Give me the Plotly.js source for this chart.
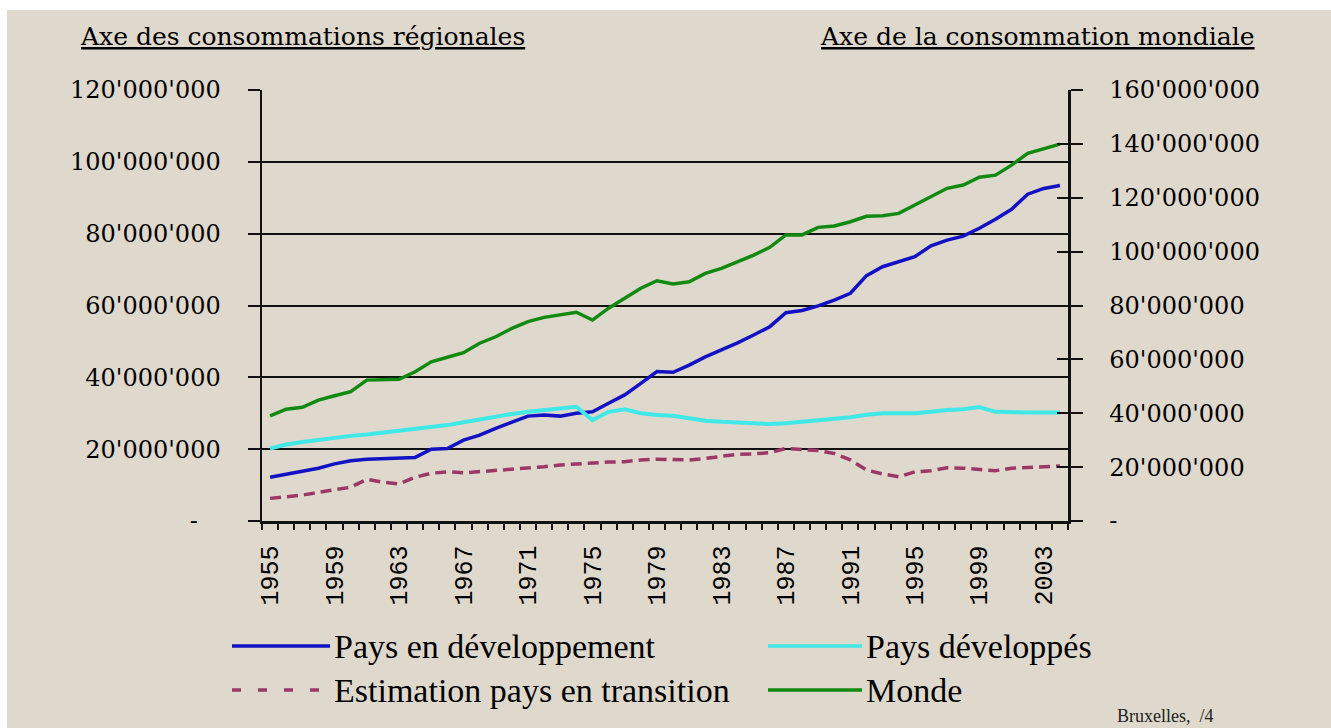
<!DOCTYPE html>
<html>
<head>
<meta charset="utf-8">
<script src="https://cdn.plot.ly/plotly-3.0.1.min.js"></script>
<style>
html,body{margin:0;padding:0;background:#ffffff;}
#chart{width:1331px;height:728px;}
</style>
</head>
<body>
<div id="chart"></div>
<script>
// ---- DATA (values in millions) ----
const years = [1955,1956,1957,1958,1959,1960,1961,1962,1963,1964,
               1965,1966,1967,1968,1969,1970,1971,1972,1973,1974,
               1975,1976,1977,1978,1979,1980,1981,1982,1983,1984,
               1985,1986,1987,1988,1989,1990,1991,1992,1993,1994,
               1995,1996,1997,1998,1999,2000,2001,2002,2003,2004];

// Pays en développement (left axis)
const paysEnDeveloppement = [12.2,13.1,13.9,14.7,15.9,16.8,17.2,17.4,17.6,17.7,
                             20.0,20.2,22.5,23.9,25.8,27.5,29.2,29.5,29.2,30.0,
                             30.4,32.8,35.1,38.3,41.6,41.4,43.4,45.7,47.6,49.6,
                             51.8,54.1,58.0,58.6,59.9,61.5,63.4,68.3,70.8,72.2,
                             73.6,76.6,78.2,79.3,81.5,84.0,86.8,91.0,92.6,93.4];

// Pays développés (left axis)
const paysDeveloppes = [20.2,21.3,22.0,22.6,23.2,23.7,24.1,24.6,25.1,25.5,
                        26.1,26.7,27.5,28.3,29.0,29.8,30.4,30.9,31.5,31.8,
                        28.1,30.4,31.1,30.0,29.5,29.3,28.6,27.9,27.6,27.4,
                        27.2,27.0,27.2,27.6,28.1,28.3,28.9,29.6,30.0,30.0,
                        30.0,30.4,30.9,31.1,31.7,30.4,30.2,30.2,30.2,30.2];

// Estimation pays en transition (left axis)
const paysEnTransition = [6.3,6.8,7.2,8.0,8.6,9.4,11.6,10.8,10.3,12.2,
                          13.3,13.7,13.4,13.7,14.0,14.4,14.7,15.1,15.6,15.9,
                          16.1,16.4,16.5,17.0,17.2,17.2,17.0,17.4,18.1,18.6,
                          18.7,19.0,20.2,19.8,19.6,18.8,17.0,14.2,13.1,12.3,
                          13.7,14.0,14.8,14.7,14.4,14.0,14.7,14.8,15.1,15.3];

// Monde (right axis)
const monde = [39.0,41.5,42.2,44.9,46.5,48.0,52.3,52.6,52.6,55.4,
               59.1,60.8,62.5,66.0,68.4,71.5,74.0,75.6,76.5,77.5,
               74.6,79.0,82.7,86.4,89.2,88.0,88.8,91.9,93.8,96.3,
               98.7,101.6,106.2,106.2,109.0,109.5,111.1,113.1,113.3,114.2,
               117.3,120.4,123.5,124.7,127.6,128.4,132.1,136.5,138.3,139.9];

const seriesNames = ['Pays en développement','Pays développés','Estimation pays en transition','Monde'];

const xTickYears = [1955,1959,1963,1967,1971,1975,1979,1983,1987,1991,1995,1999,2003];
const xTickText = ['1955','1959','1963','1967','1971','1975','1979','1983','1987','1991','1995','1999','2003'];

const leftTickVals = [0,20,40,60,80,100,120];
const leftTickText = ['-\u00a0\u00a0\u00a0',"20'000'000","40'000'000","60'000'000","80'000'000","100'000'000","120'000'000"];
const rightTickVals = [0,20,40,60,80,100,120,140,160];
const rightTickText = ['-',"20'000'000","40'000'000","60'000'000","80'000'000","100'000'000","120'000'000","140'000'000","160'000'000"];

const leftAxisTitle = 'Axe des consommations régionales';
const rightAxisTitle = 'Axe de la consommation mondiale';
const footerText = 'Bruxelles,\u00a0\u00a0/4';

// ---- LAYOUT HELPERS (pixel -> paper) ----
const W = 1331, H = 728;
const PL = 262, PR = 1068, PT = 90, PB = 521;
const px = p => (p - PL) / (PR - PL);
const py = p => (PB - p) / (PB - PT);

const colors = {
  dev: '#1212c4',
  devd: '#40e8e8',
  trans: '#9c3868',
  monde: '#128a12'
};

const traces = [
  {x: years, y: paysEnDeveloppement, name: seriesNames[0], type: 'scatter', mode: 'lines',
   line: {color: colors.dev, width: 3.5}, xaxis: 'x', yaxis: 'y', showlegend: false},
  {x: years, y: paysDeveloppes, name: seriesNames[1], type: 'scatter', mode: 'lines',
   line: {color: colors.devd, width: 4}, xaxis: 'x', yaxis: 'y', showlegend: false},
  {x: years, y: paysEnTransition, name: seriesNames[2], type: 'scatter', mode: 'lines',
   line: {color: colors.trans, width: 3.5, dash: '11px,6px'}, xaxis: 'x', yaxis: 'y', showlegend: false},
  {x: years, y: monde, name: seriesNames[3], type: 'scatter', mode: 'lines',
   line: {color: colors.monde, width: 3.5}, xaxis: 'x', yaxis: 'y2', showlegend: false},
  // helper empty traces so overlay axes (tick marks) are drawn
  {x: [], y: [], type: 'scatter', mode: 'lines', xaxis: 'x2', yaxis: 'y', showlegend: false, hoverinfo: 'skip'},
  {x: [], y: [], type: 'scatter', mode: 'lines', xaxis: 'x', yaxis: 'y3', showlegend: false, hoverinfo: 'skip'}
];

const axisFont = {family: 'DejaVu Serif', size: 24, color: '#000000'};

const legendRows = [
  {label: seriesNames[0], color: colors.dev, dash: 'solid', x0: 232, x1: 330, y: 646, tx: 332},
  {label: seriesNames[1], color: colors.devd, dash: 'solid', x0: 768, x1: 862, y: 646, tx: 864},
  {label: seriesNames[2], color: colors.trans, dash: '9px,17px', x0: 232, x1: 330, y: 690, tx: 332},
  {label: seriesNames[3], color: colors.monde, dash: 'solid', x0: 768, x1: 862, y: 690, tx: 864}
];

const shapes = [
  // textured-paper background
  {type: 'rect', xref: 'paper', yref: 'paper', layer: 'below',
   x0: px(7), x1: px(W + 5), y0: py(H + 5), y1: py(10),
   fillcolor: '#dfd8cc', line: {width: 0}}
];
legendRows.forEach(r => {
  shapes.push({type: 'line', xref: 'paper', yref: 'paper', x0: px(r.x0), x1: px(r.x1), y0: py(r.y), y1: py(r.y),
               line: {color: r.color, width: 3.5, dash: r.dash}});
});

const headerFont = {family: 'DejaVu Serif', size: 25, color: '#000000'};
const annotations = [
  {text: '<u>' + leftAxisTitle + '</u>', xref: 'paper', yref: 'paper', x: px(78), y: py(36),
   xanchor: 'left', yanchor: 'middle', showarrow: false, font: headerFont},
  {text: '<u>' + rightAxisTitle + '</u>', xref: 'paper', yref: 'paper', x: px(1257), y: py(36),
   xanchor: 'right', yanchor: 'middle', showarrow: false, font: headerFont},
  {text: footerText, xref: 'paper', yref: 'paper', x: px(1115), y: py(716),
   xanchor: 'left', yanchor: 'middle', showarrow: false, font: {family: 'Liberation Serif', size: 18, color: '#222222'}}
];
legendRows.forEach(r => {
  annotations.push({text: r.label, xref: 'paper', yref: 'paper', x: px(r.tx), y: py(r.y),
    xanchor: 'left', yanchor: 'middle', showarrow: false,
    font: {family: 'Liberation Serif', size: 34, color: '#000000'}});
});

const layout = {
  width: W, height: H, autosize: false,
  margin: {l: PL, r: W - PR, t: PT, b: H - PB, pad: 0},
  paper_bgcolor: '#ffffff',
  plot_bgcolor: 'rgba(0,0,0,0)',
  showlegend: false,
  xaxis: {
    range: [1954.5, 2004.5], tickmode: 'array', tickvals: xTickYears, ticktext: xTickText,
    tickangle: -90, ticks: 'outside', ticklen: 8, tickcolor: 'rgba(0,0,0,0)',
    ticklabelstandoff: 4,
    tickfont: {family: 'Liberation Mono', size: 25, color: '#000000'},
    showgrid: false, zeroline: false, showline: true, linecolor: '#111111', linewidth: 2.5,
    fixedrange: true
  },
  xaxis2: {
    overlaying: 'x', anchor: 'y', side: 'bottom', range: [1954.5, 2004.5],
    tickmode: 'linear', tick0: 1954.5, dtick: 1, ticks: 'outside', ticklen: 8, tickwidth: 2,
    tickcolor: '#111111', showticklabels: false, showgrid: false, zeroline: false, showline: false
  },
  yaxis: {
    range: [0, 120], tickmode: 'array', tickvals: leftTickVals, ticktext: leftTickText,
    ticks: 'outside', ticklen: 12, tickwidth: 2, tickcolor: '#111111',
    ticklabelstandoff: 22,
    tickfont: axisFont,
    showgrid: true, gridcolor: '#111111', gridwidth: 2,
    zeroline: false, showline: true, linecolor: '#111111', linewidth: 2.5, fixedrange: true
  },
  yaxis2: {
    overlaying: 'y', side: 'right', anchor: 'x', range: [0, 160], tickmode: 'array',
    tickvals: rightTickVals, ticktext: rightTickText,
    ticks: 'outside', ticklen: 12, tickwidth: 2, tickcolor: '#111111',
    ticklabelstandoff: 22,
    tickfont: axisFont,
    showgrid: false, zeroline: false, showline: true, linecolor: '#111111', linewidth: 2.5, fixedrange: true
  },
  yaxis3: {
    overlaying: 'y', side: 'right', anchor: 'x', range: [0, 160], tickmode: 'array',
    tickvals: rightTickVals, ticks: 'inside', ticklen: 11, tickwidth: 2, tickcolor: '#111111',
    showticklabels: false, showgrid: false, zeroline: false, showline: false, fixedrange: true
  },
  shapes: shapes,
  annotations: annotations
};

Plotly.newPlot('chart', traces, layout, {displayModeBar: false, staticPlot: true});
</script>
</body>
</html>
